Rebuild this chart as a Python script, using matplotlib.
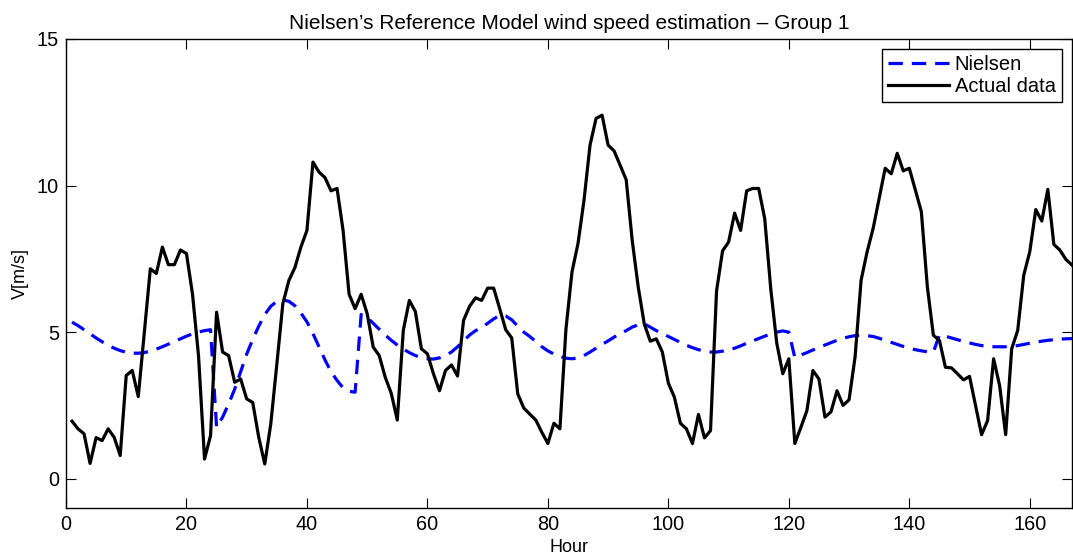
import matplotlib
matplotlib.use("Agg")
import matplotlib.pyplot as plt
import numpy as np

plt.rcParams['font.family'] = ['Liberation Sans', 'DejaVu Sans']

# hourly wind speed over one week (m/s), one row per day
actual = [
    1.96, 1.70, 1.53, 0.52, 1.40, 1.30, 1.70, 1.41, 0.79, 3.52, 3.69, 2.80,
    5.00, 7.16, 7.00, 7.90, 7.30, 7.30, 7.80, 7.68, 6.30, 4.20, 0.67, 1.47,
    5.68, 4.32, 4.20, 3.29, 3.40, 2.72, 2.60, 1.41, 0.50, 1.87, 3.90, 5.97,
    6.76, 7.20, 7.90, 8.47, 10.80, 10.46, 10.27, 9.82, 9.90, 8.47, 6.29, 5.80,
    6.29, 5.63, 4.49, 4.20, 3.46, 2.91, 2.00, 5.06, 6.08, 5.70, 4.43, 4.26,
    3.58, 3.00, 3.69, 3.88, 3.50, 5.40, 5.88, 6.17, 6.08, 6.50, 6.50, 5.80,
    5.08, 4.80, 2.89, 2.41, 2.20, 2.00, 1.58, 1.20, 1.89, 1.70, 5.10, 7.05,
    8.02, 9.50, 11.38, 12.29, 12.40, 11.38, 11.18, 10.69, 10.20, 8.13, 6.54, 5.28,
    4.69, 4.77, 4.32, 3.26, 2.78, 1.89, 1.70, 1.20, 2.19, 1.39, 1.64, 6.40,
    7.77, 8.07, 9.06, 8.47, 9.82, 9.90, 9.90, 8.87, 6.48, 4.62, 3.58, 4.09,
    1.20, 1.75, 2.32, 3.69, 3.40, 2.10, 2.28, 3.00, 2.50, 2.69, 4.15, 6.77,
    7.74, 8.54, 9.56, 10.59, 10.40, 11.10, 10.50, 10.59, 9.85, 9.11, 6.54, 4.89,
    4.72, 3.80, 3.78, 3.58, 3.37, 3.49, 2.50, 1.50, 1.98, 4.09, 3.17, 1.50,
    4.43, 5.06, 6.94, 7.74, 9.18, 8.79, 9.87, 7.99, 7.80, 7.48, 7.29,
]

# Nielsen reference model forecast for the same hours
nielsen = [
    5.34, 5.22, 5.08, 4.94, 4.80, 4.67, 4.55, 4.45, 4.37, 4.31, 4.28, 4.28,
    4.30, 4.35, 4.42, 4.50, 4.59, 4.68, 4.77, 4.86, 4.94, 5.00, 5.05, 5.08,
    1.75, 2.10, 2.55, 3.05, 3.65, 4.25, 4.75, 5.20, 5.60, 5.88, 6.05, 6.10,
    6.05, 5.90, 5.65, 5.35, 4.95, 4.50, 4.05, 3.65, 3.35, 3.10, 2.98, 2.95,
    5.60, 5.50, 5.30, 5.10, 4.90, 4.72, 4.56, 4.42, 4.30, 4.20, 4.13, 4.09,
    4.08, 4.12, 4.20, 4.32, 4.50, 4.70, 4.90, 5.05, 5.15, 5.30, 5.45, 5.57,
    5.55, 5.42, 5.20, 5.00, 4.85, 4.68, 4.50, 4.36, 4.25, 4.17, 4.11, 4.09,
    4.12, 4.20, 4.32, 4.45, 4.58, 4.70, 4.83, 4.95, 5.05, 5.17, 5.25, 5.28,
    5.17, 5.05, 4.95, 4.85, 4.75, 4.65, 4.55, 4.47, 4.40, 4.35, 4.32, 4.32,
    4.35, 4.40, 4.45, 4.53, 4.62, 4.70, 4.78, 4.86, 4.94, 5.00, 5.04, 5.00,
    4.13, 4.22, 4.30, 4.39, 4.47, 4.56, 4.64, 4.72, 4.79, 4.84, 4.88, 4.89,
    4.88, 4.85, 4.79, 4.72, 4.65, 4.58, 4.51, 4.45, 4.40, 4.36, 4.33, 4.32,
    4.90, 4.86, 4.80, 4.74, 4.68, 4.63, 4.58, 4.54, 4.51, 4.50, 4.50, 4.50,
    4.51, 4.54, 4.58, 4.62, 4.66, 4.69, 4.72, 4.74, 4.76, 4.77, 4.78,
]

hours = np.arange(1, len(actual) + 1)

fig = plt.figure(figsize=(10.73, 5.6), dpi=100)
ax = fig.add_axes([0.0615, 0.0929, 0.9375, 0.8375])

line_n, = ax.plot(hours, nielsen, color='#0000ff', lw=2.3, label='Nielsen')
line_n.set_dashes((4.5, 2.8))
ax.plot(hours, actual, color='black', lw=2.3, label='Actual data')

ax.set_xlim(0, 167)
ax.set_ylim(-1, 15)
ax.set_xticks(range(0, 161, 20))
ax.set_yticks([0, 5, 10, 15])
ax.tick_params(direction='in', length=7.5, width=0.8, labelsize=14.3,
               top=True, right=True, pad=5)
for s in ax.spines.values():
    s.set_linewidth(1.0)

ax.set_xlabel('Hour', fontsize=13, labelpad=4)
ax.set_ylabel('V[m/s]', fontsize=13, labelpad=6)
ax.set_title('Nielsen\u2019s Reference Model wind speed estimation \u2013 Group 1',
             fontsize=15, pad=7)

leg = ax.legend(loc='upper right', fontsize=14.5, fancybox=False,
                framealpha=1, edgecolor='black', handlelength=3.0,
                borderpad=0.3, labelspacing=0.15, handletextpad=0.3,
                borderaxespad=0.5)
leg.get_frame().set_linewidth(1.0)

fig.savefig('out.png', dpi=100)
